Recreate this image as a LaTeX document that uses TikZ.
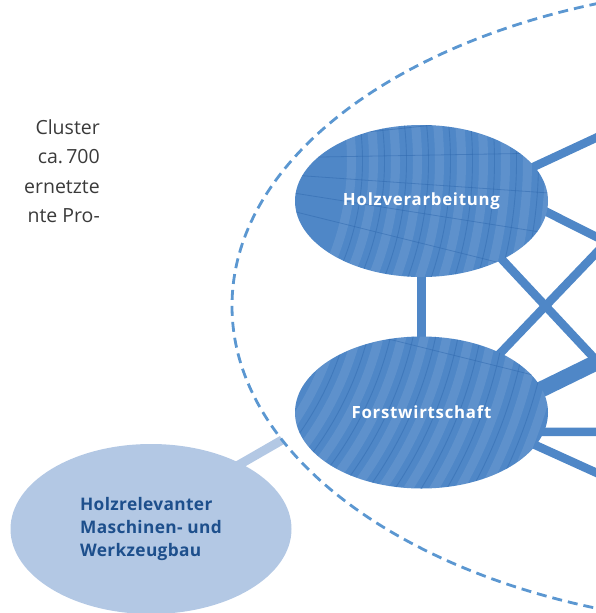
\documentclass[tikz,border=0pt]{standalone}
\usepackage{fontspec}
\setmainfont{Open Sans}
\usetikzlibrary{shapes.geometric,calc}
\definecolor{woodblue}{HTML}{4F87C7}
\definecolor{ringdark}{HTML}{2F68AE}
\definecolor{dashblue}{HTML}{5B97D1}
\definecolor{lightblue}{HTML}{B3C8E4}
\definecolor{darkblue}{HTML}{1D4F8C}
\definecolor{txtgray}{HTML}{3A3A3A}
\pgfdeclarelayer{bg}
\pgfsetlayers{bg,main}
\tikzset{
  wood/.style={shape=ellipse, fill=woodblue, inner sep=0pt, outer sep=0pt,
    minimum width=253pt, minimum height=152pt, text=white,
    font={\fontsize{16.8}{20}\selectfont\bfseries\addfontfeatures{LetterSpace=4.5}},
    path picture={
      \coordinate (rc) at ($(path picture bounding box.center)+(#1)$);
      \foreach \r in {0,...,14}{
        \pgfmathsetmacro\ra{260+\r*22}
        \pgfmathsetmacro\rb{271+\r*22}
        \draw[white, opacity=0.09, line width=9pt] (rc) circle (\ra pt);
        \draw[ringdark, opacity=0.45, line width=0.9pt] (rc) circle (\rb pt);
      }
      \foreach \a in {-14,-9,-4,1,6,11,16}{
        \draw[ringdark, opacity=0.5, line width=0.8pt] (rc) -- +(\a:700pt);
      }
    }},
  conn/.style={draw=woodblue, line width=8.5pt},
  thickconn/.style={draw=woodblue, line width=16pt},
  lightconn/.style={draw=lightblue, line width=9pt},
  cluster/.style={shape=ellipse, draw=dashblue, line width=2.8pt,
    dash pattern=on 10pt off 6pt, inner sep=0pt, outer sep=0pt,
    minimum width=1100pt, minimum height=642pt},
  side/.style={shape=ellipse, fill=lightblue, inner sep=0pt, outer sep=0pt,
    minimum width=281pt, minimum height=170pt, text=darkblue, align=left,
    font={\fontsize{17.3}{22.8}\selectfont\bfseries\addfontfeatures{LetterSpace=2}}},
  para/.style={anchor=north east, inner sep=0pt, align=right, text=txtgray,
    font={\fontsize{19.5}{29.5}\selectfont}}
}
\begin{document}
\begin{tikzpicture}[x=1pt,y=-1pt]
\useasboundingbox (0,0) rectangle (596,613);

% text fragment
\node[para] (txt) at (100,119) {Cluster\\ca.\,700\\ernetzte\\nte Pro-};

% nodes
\node[wood={-330,-40}] (holz) at (421.5,201) {Holzverarbeitung};
\node[wood={-380,-160}] (forst) at (421.5,412.5) {Forstwirtschaft};
\node[side] (mach) at (151,529) {Holzrelevanter\\Maschinen- und\\Werkzeugbau};
\node[cluster] (clu) at (782,306) {};

% free ends beyond the right edge
\coordinate (e1) at (630,122);
\coordinate (e2) at (630,253.7);
\coordinate (e3) at (630,396.5);
\coordinate (e4) at (630,217.7);
\coordinate (e5) at (630,346);
\coordinate (e6) at (630,432);
\coordinate (e7) at (630,488);

\begin{pgfonlayer}{bg}
  \draw[conn] (holz.center) -- (forst.center);
  \draw[conn] ($(holz.17)!-12pt!(e1)$) -- (e1);
  \draw[conn] ($(holz.-5.5)!-12pt!(e2)$) -- (e2);
  \draw[conn] ($(holz.-36)!-12pt!(e3)$) -- (e3);
  \draw[conn] ($(forst.37.6)!-12pt!(e4)$) -- (e4);
  \draw[thickconn] ($(forst.11.9)!-14pt!(e5)$) -- (e5);
  \draw[conn] ($(forst.-9.1)!-12pt!(e6)$) -- (e6);
  \draw[conn] ($(forst.-16.6)!-12pt!(e7)$) -- (e7);
  \draw[lightconn] ($(mach.36)!-12pt!(clu.195.8)$) -- (clu.195.8);
\end{pgfonlayer}
\end{tikzpicture}
\end{document}
